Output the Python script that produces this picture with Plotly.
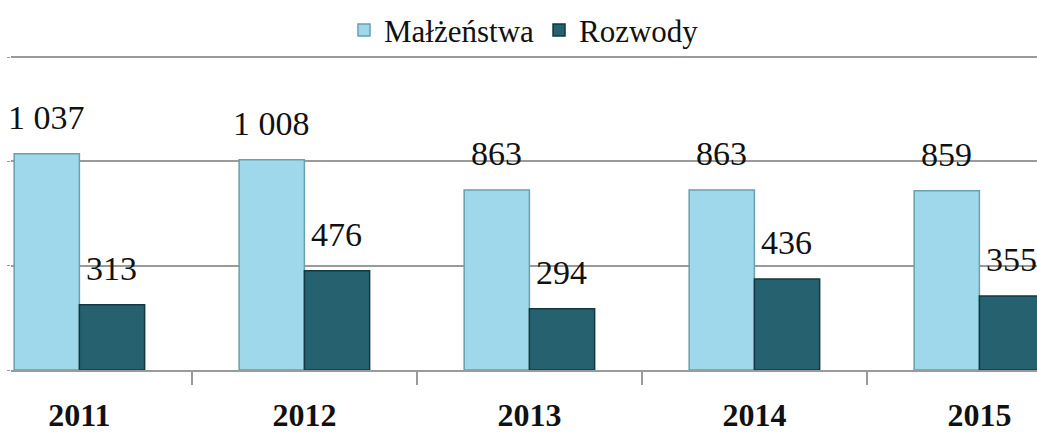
import plotly.graph_objects as go

years = ["2011", "2012", "2013", "2014", "2015"]
malzenstwa = [1037, 1008, 863, 863, 859]
rozwody = [313, 476, 294, 436, 355]
y_ticks = [0, 500, 1000, 1500]

LIGHT = "#9fd8ea"
DARK = "#25616f"
SERIF = "Liberation Serif, Tinos, Times New Roman, DejaVu Serif, serif"


def fmt(v):
    return f"{v:,}".replace(",", " ")


fig = go.Figure()
fig.add_bar(x=years, y=malzenstwa, name="Małżeństwa", marker_color=LIGHT,
            marker_line=dict(color="#6a9fae", width=1.5))
fig.add_bar(x=years, y=rozwody, name="Rozwody", marker_color=DARK,
            marker_line=dict(color="#123840", width=1.5))

# data labels above each bar (x given as category index)
for series, shift in [(malzenstwa, -32.5), (rozwody, 32.5)]:
    for i, v in enumerate(series):
        fig.add_annotation(x=i, y=v, text=fmt(v), showarrow=False,
                           xshift=shift, yshift=16, yanchor="bottom",
                           font=dict(family=SERIF, size=34, color="#111"))

fig.update_layout(
    width=1037, height=439,
    margin=dict(l=11, r=0, t=54, b=69, autoexpand=False),
    paper_bgcolor="white", plot_bgcolor="white",
    barmode="group", bargap=0.42, bargroupgap=0,
    showlegend=True,
    legend=dict(orientation="h", x=0.5, xanchor="center",
                y=1.075, yanchor="middle", bgcolor="rgba(0,0,0,0)",
                font=dict(family=SERIF, size=31, color="#111"),
                itemwidth=30, tracegroupgap=0),
)
fig.update_xaxes(
    type="category", range=[-0.304, 4.256],
    showline=True, linecolor="#9a9a9a", linewidth=1.5,
    ticks="outside", tickson="boundaries", ticklen=13, tickcolor="#9a9a9a",
    tickwidth=1.5, ticklabelstandoff=16,
    tickfont=dict(family=SERIF, size=32, color="#111", weight="bold"),
    showgrid=False,
)
fig.update_yaxes(
    range=[0, 1515], tickvals=y_ticks, showticklabels=False,
    showgrid=True, gridcolor="#9a9a9a", gridwidth=1.5,
    ticks="outside", ticklen=3, tickcolor="#9a9a9a",
    zeroline=False,
)

fig.write_html("out.html", config={"displayModeBar": False},
               post_script="document.body.style.margin='0';")
